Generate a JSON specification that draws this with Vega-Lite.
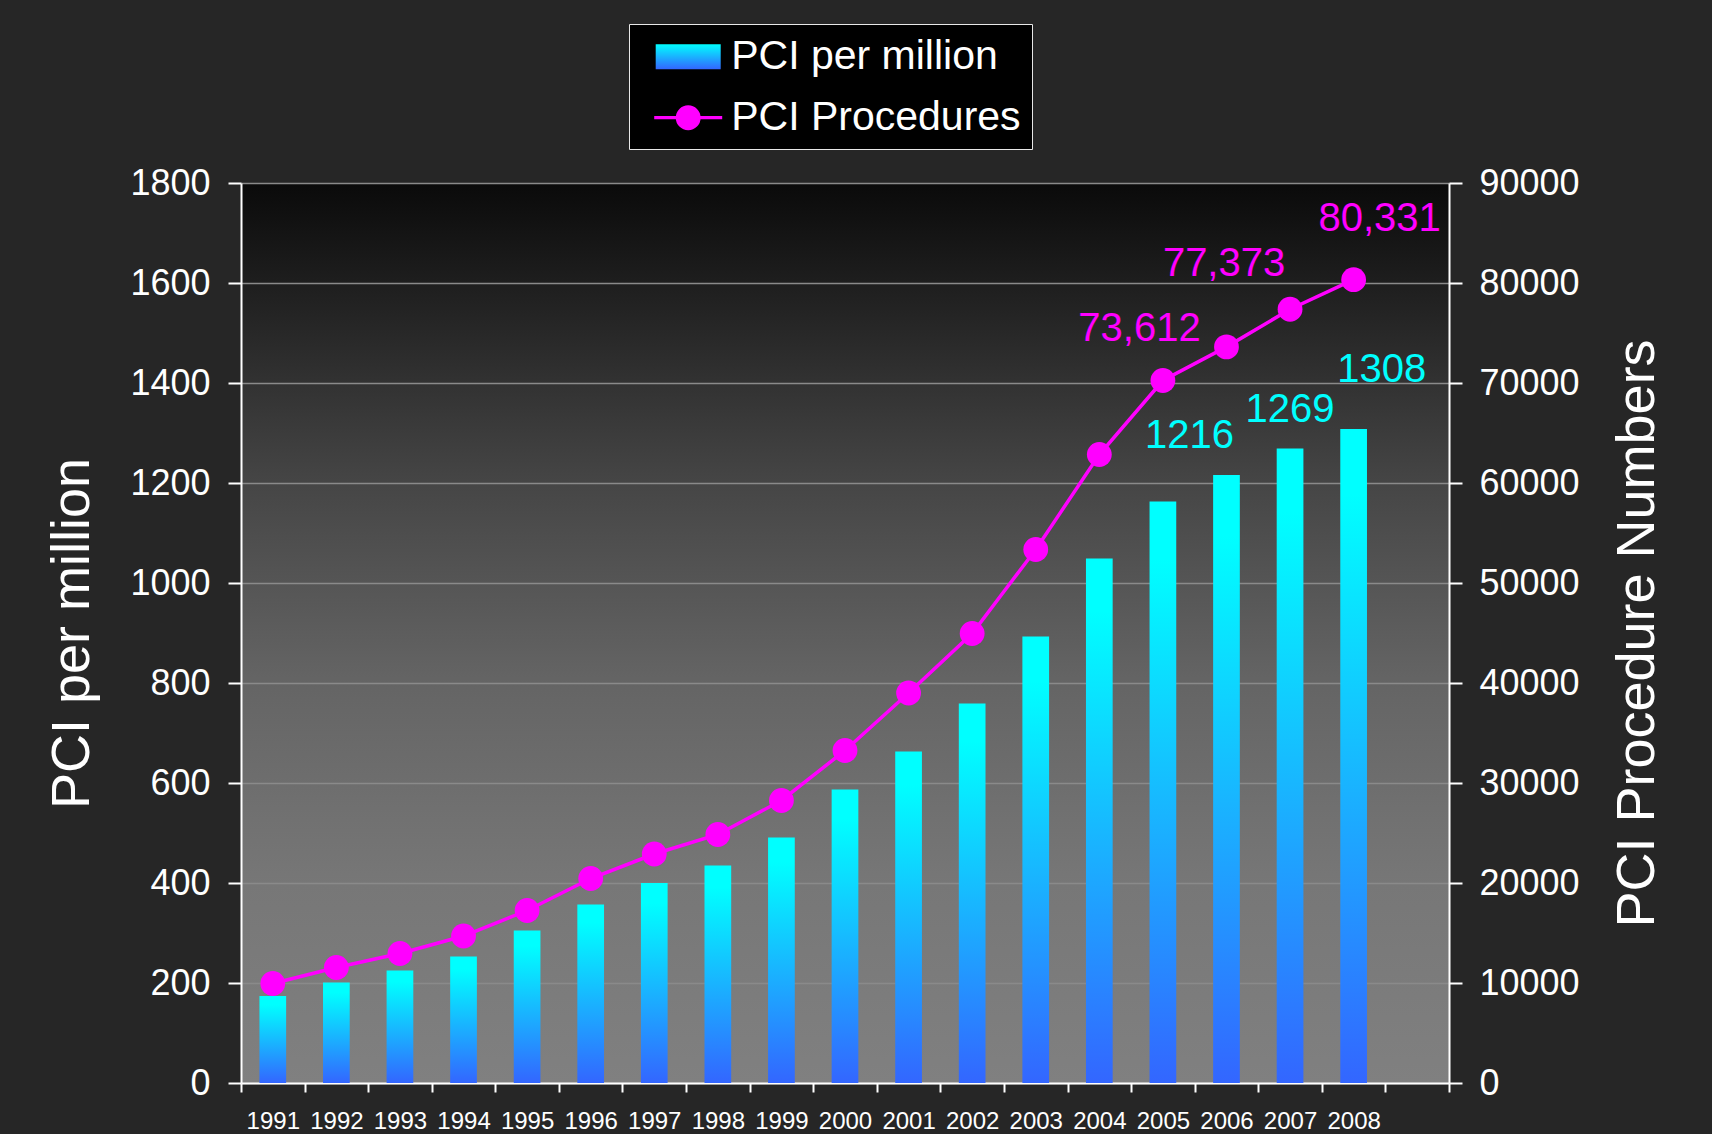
{
  "$schema": "https://vega.github.io/schema/vega-lite/v6.json",
  "width": 1208,
  "height": 900,
  "autosize": {"type": "none"},
  "padding": {"left": 241, "top": 183, "right": 263, "bottom": 51},
  "background": "#262626",
  "config": {
    "font": "Liberation Sans",
    "view": {
      "stroke": null,
      "fill": {
        "gradient": "linear", "x1": 0, "y1": 0, "x2": 0, "y2": 1,
        "stops": [
          {"offset": 0, "color": "#0a0a0a"},
          {"offset": 0.1, "color": "#1c1c1c"},
          {"offset": 0.33, "color": "#454545"},
          {"offset": 0.55, "color": "#646464"},
          {"offset": 0.78, "color": "#777777"},
          {"offset": 1, "color": "#808080"}
        ]
      }
    },
    "axis": {
      "labelColor": "white",
      "titleColor": "white",
      "domainColor": "white",
      "tickColor": "white",
      "titleFontWeight": "normal",
      "domainWidth": 2,
      "tickWidth": 2
    }
  },
  "data": {
    "values": [
      {"year": 1991, "per_million": 174, "procedures": 9950},
      {"year": 1992, "per_million": 201, "procedures": 11550},
      {"year": 1993, "per_million": 225, "procedures": 12950},
      {"year": 1994, "per_million": 253, "procedures": 14700},
      {"year": 1995, "per_million": 305, "procedures": 17250},
      {"year": 1996, "per_million": 357, "procedures": 20450},
      {"year": 1997, "per_million": 400, "procedures": 22900},
      {"year": 1998, "per_million": 435, "procedures": 24850},
      {"year": 1999, "per_million": 491, "procedures": 28250},
      {"year": 2000, "per_million": 587, "procedures": 33250},
      {"year": 2001, "per_million": 663, "procedures": 39000},
      {"year": 2002, "per_million": 759, "procedures": 44950},
      {"year": 2003, "per_million": 893, "procedures": 53350},
      {"year": 2004, "per_million": 1049, "procedures": 62850},
      {"year": 2005, "per_million": 1163, "procedures": 70250},
      {"year": 2006, "per_million": 1216, "procedures": 73612},
      {"year": 2007, "per_million": 1269, "procedures": 77373},
      {"year": 2008, "per_million": 1308, "procedures": 80331}
    ]
  },
  "encoding": {
    "x": {
      "field": "year",
      "type": "ordinal",
      "scale": {
        "domain": [1991, 1992, 1993, 1994, 1995, 1996, 1997, 1998, 1999, 2000, 2001, 2002, 2003, 2004, 2005, 2006, 2007, 2008, 2009],
        "paddingInner": 0,
        "paddingOuter": 0
      },
      "axis": {
        "title": null,
        "labelAngle": 0,
        "labelFontSize": 24,
        "labelPadding": 17,
        "labelOverlap": false,
        "tickSize": 9,
        "tickBand": "extent",
        "labelExpr": "datum.value == 2009 ? '' : datum.label"
      }
    }
  },
  "layer": [
    {
      "layer": [
        {
          "mark": {
            "type": "bar",
            "width": {"band": 0.42},
            "fill": {
              "gradient": "linear", "x1": 0, "y1": 0, "x2": 0, "y2": 1,
              "stops": [
                {"offset": 0, "color": "#00ffff"},
                {"offset": 0.1, "color": "#00ffff"},
                {"offset": 1, "color": "#3366ff"}
              ]
            },
            "strokeOpacity": 0,
            "strokeWidth": 0
          },
          "encoding": {
            "y": {
              "field": "per_million",
              "type": "quantitative",
              "scale": {"domain": [0, 1800], "nice": false},
              "axis": {
                "orient": "left",
                "values": [0, 200, 400, 600, 800, 1000, 1200, 1400, 1600, 1800],
                "format": "d",
                "labelFontSize": 36,
                "labelPadding": 18,
                "tickSize": 13,
                "grid": true,
                "gridColor": "#8a8a8a",
                "gridWidth": 1.5,
                "title": "PCI per million",
                "titleFontSize": 54,
                "titleAngle": 270,
                "titleBaseline": "bottom",
                "titlePadding": 30
              }
            },
            "stroke": {
              "datum": "PCI per million",
              "type": "nominal",
              "scale": {"domain": ["PCI per million", "PCI Procedures"], "range": ["#00ffff", "#ff00ff"]},
              "legend": {
                "title": null,
                "orient": "none",
                "legendX": 388,
                "legendY": -159,
                "fillColor": "black",
                "strokeColor": "#e8e8e8",
                "padding": 10.7,
                "rowPadding": 19,
                "symbolSize": 1600,
                "symbolStrokeWidth": 3.3,
                "symbolOffset": 26.5,
                "labelOffset": 21,
                "labelFontSize": 41,
                "labelColor": "white",
                "labelLimit": 0,
                "encoding": {
                  "symbols": {
                    "shape": {"value": {"expr": "datum.value === 'PCI per million' ? 'M-1.625,-0.625H1.625V0.625H-1.625Z' : 'M-1.7,0H1.7M-0.54,0A0.54,0.54 0 1,0 0.54,0A0.54,0.54 0 1,0 -0.54,0Z'"}},
                    "fill": {"value": {"expr": "datum.value === 'PCI per million' ? {gradient: 'linear', x1: 0, y1: 0, x2: 0, y2: 1, stops: [{offset: 0, color: '#00ffff'}, {offset: 1, color: '#3366ff'}]} : '#ff00ff'"}},
                    "strokeOpacity": {"value": {"expr": "datum.value === 'PCI per million' ? 0 : 1"}},
                    "fillOpacity": {"value": 1},
                    "opacity": {"value": 1}
                  }
                }
              }
            }
          }
        },
        {
          "transform": [{"filter": "datum.year == 2006"}],
          "mark": {"type": "text", "dx": -37, "dy": -39, "fontSize": 40, "color": "#00ffff", "baseline": "middle", "align": "center"},
          "encoding": {
            "y": {"field": "per_million", "type": "quantitative"},
            "text": {"field": "per_million", "type": "quantitative", "format": "d"}
          }
        },
        {
          "transform": [{"filter": "datum.year == 2007"}],
          "mark": {"type": "text", "dx": 0, "dy": -39, "fontSize": 40, "color": "#00ffff", "baseline": "middle", "align": "center"},
          "encoding": {
            "y": {"field": "per_million", "type": "quantitative"},
            "text": {"field": "per_million", "type": "quantitative", "format": "d"}
          }
        },
        {
          "transform": [{"filter": "datum.year == 2008"}],
          "mark": {"type": "text", "dx": 28, "dy": -59, "fontSize": 40, "color": "#00ffff", "baseline": "middle", "align": "center"},
          "encoding": {
            "y": {"field": "per_million", "type": "quantitative"},
            "text": {"field": "per_million", "type": "quantitative", "format": "d"}
          }
        }
      ]
    },
    {
      "layer": [
        {
          "mark": {"type": "line", "strokeWidth": 3.5, "color": "#ff00ff"},
          "encoding": {
            "y": {
              "field": "procedures",
              "type": "quantitative",
              "scale": {"domain": [0, 90000], "nice": false},
              "axis": {
                "orient": "right",
                "values": [0, 10000, 20000, 30000, 40000, 50000, 60000, 70000, 80000, 90000],
                "format": "d",
                "labelFontSize": 36,
                "labelPadding": 17,
                "tickSize": 13,
                "grid": false,
                "title": "PCI Procedure Numbers",
                "titleFontSize": 54,
                "titleAngle": 270,
                "titleBaseline": "top",
                "titlePadding": 31
              }
            }
          }
        },
        {
          "mark": {"type": "circle", "size": 615, "color": "#ff00ff", "opacity": 1},
          "encoding": {
            "y": {"field": "procedures", "type": "quantitative"}
          }
        },
        {
          "transform": [{"filter": "datum.year == 2006"}],
          "mark": {"type": "text", "dx": -87, "dy": -18, "fontSize": 40, "color": "#ff00ff", "baseline": "middle", "align": "center"},
          "encoding": {
            "y": {"field": "procedures", "type": "quantitative"},
            "text": {"field": "procedures", "type": "quantitative", "format": ","}
          }
        },
        {
          "transform": [{"filter": "datum.year == 2007"}],
          "mark": {"type": "text", "dx": -66, "dy": -45, "fontSize": 40, "color": "#ff00ff", "baseline": "middle", "align": "center"},
          "encoding": {
            "y": {"field": "procedures", "type": "quantitative"},
            "text": {"field": "procedures", "type": "quantitative", "format": ","}
          }
        },
        {
          "transform": [{"filter": "datum.year == 2008"}],
          "mark": {"type": "text", "dx": 26, "dy": -61, "fontSize": 40, "color": "#ff00ff", "baseline": "middle", "align": "center"},
          "encoding": {
            "y": {"field": "procedures", "type": "quantitative"},
            "text": {"field": "procedures", "type": "quantitative", "format": ","}
          }
        }
      ]
    }
  ],
  "resolve": {"scale": {"y": "independent"}}
}
